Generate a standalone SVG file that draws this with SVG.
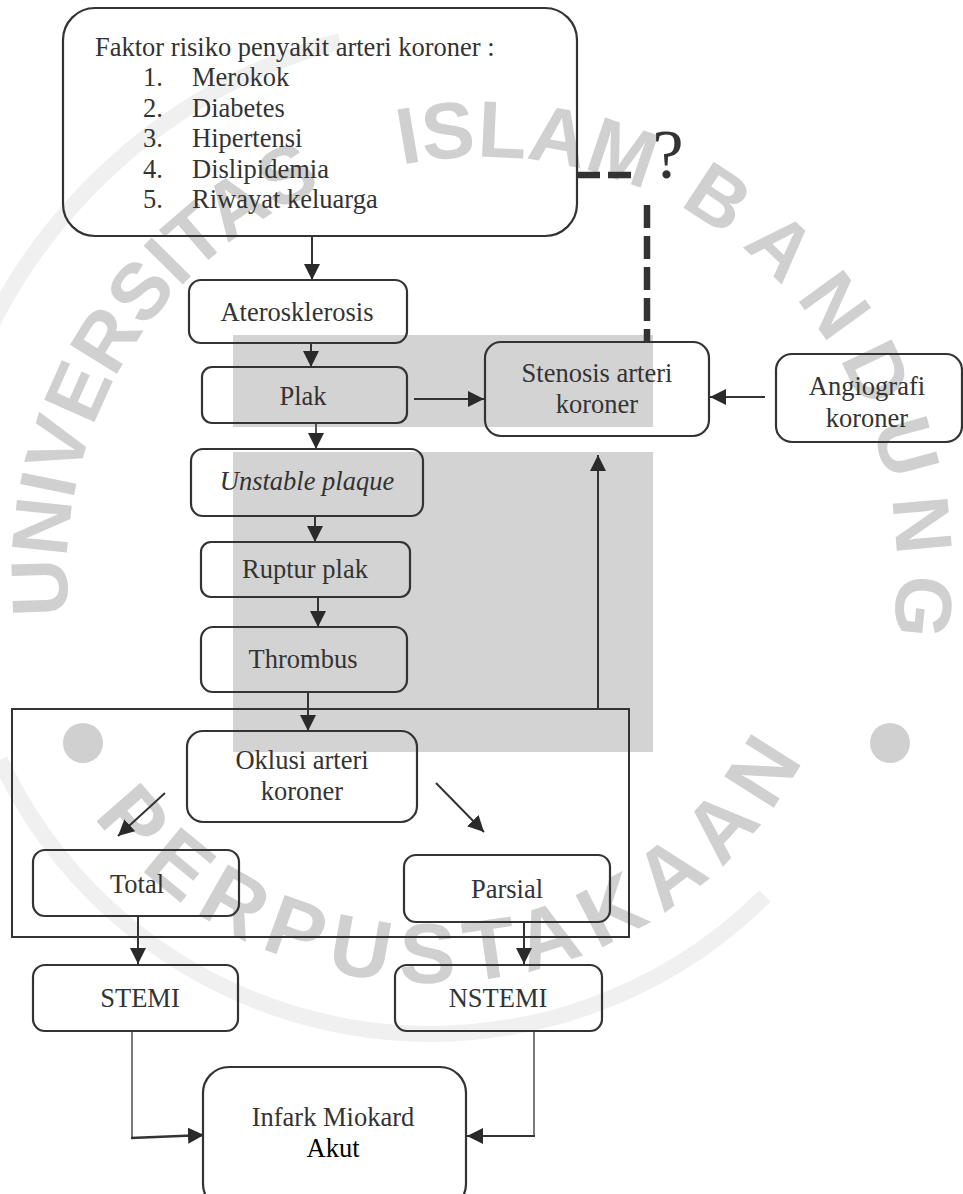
<svg xmlns="http://www.w3.org/2000/svg" width="963" height="1194" viewBox="0 0 963 1194">
<style>
.box{fill:none;stroke:#333;stroke-width:2.2}
.t{font-family:"Liberation Serif","Times New Roman",serif;font-size:26.5px;fill:#333}
.c{text-anchor:middle}
.ln{stroke:#333;stroke-width:2;fill:none}
.ar{marker-end:url(#ah)}
.dash{stroke:#333;stroke-width:6.5;stroke-dasharray:23 8;fill:none}
.wm{font-family:"Liberation Sans",Arial,sans-serif;font-weight:bold;font-size:80px;fill:#d0d0d0}
.band{fill:none;stroke:#f0f0f0;stroke-width:16}
.shade{fill:#d3d3d3}
</style>
<defs>
<marker id="ah" markerUnits="userSpaceOnUse" markerWidth="16" markerHeight="16" refX="16" refY="8" orient="auto">
<path d="M0,0 L16,8 L0,16 z" fill="#2a2a2a"/>
</marker>
<path id="wmTop" d="M73.3,644.1 A415,415 0 1 1 872,713.9"/>
<path id="wmBot" d="M63.7,771.5 A423,423 0 0 0 827.5,704.7"/>
</defs>
<rect width="963" height="1194" fill="#fff"/>
<g id="watermark">
<path class="band" d="M-34,384 A550,550 0 0 1 340,41"/>
<path class="band" d="M0,760 A475,475 0 0 0 765,896"/>
<circle cx="83" cy="743" r="20" fill="#d0d0d0"/>
<circle cx="890" cy="743" r="20" fill="#d0d0d0"/>
<text class="wm"><textPath href="#wmTop" startOffset="29">UNIVERSITAS<tspan dx="60"> ISLAM</tspan><tspan dx="14"> </tspan><tspan letter-spacing="17">BANDUNG</tspan></textPath></text>
<text class="wm" style="font-size:85px"><textPath href="#wmBot" startOffset="53.9" textLength="845" lengthAdjust="spacing">PERPUSTAKAAN</textPath></text>
</g>
<g id="shading">
<rect class="shade" x="233" y="335" width="420" height="92"/>
<rect class="shade" x="233" y="452" width="420" height="300"/>
</g>
<g id="connectors">
<line class="ln ar" x1="312" y1="236" x2="312" y2="280"/>
<line class="ln ar" x1="311" y1="343" x2="311" y2="367"/>
<line class="ln ar" x1="414" y1="399" x2="484" y2="399"/>
<line class="ln ar" x1="765" y1="397" x2="710" y2="397"/>
<line class="ln ar" x1="316" y1="423" x2="316" y2="449" style="stroke:#555"/>
<line class="ln ar" x1="315" y1="516" x2="315" y2="542"/>
<line class="ln ar" x1="318" y1="597" x2="318" y2="627"/>
<line class="ln ar" x1="308" y1="692" x2="308" y2="731"/>
<line class="ln ar" x1="598" y1="709" x2="598" y2="455"/>
<line class="ln ar" x1="165" y1="793" x2="118" y2="836"/>
<line class="ln ar" x1="436" y1="783" x2="484" y2="832"/>
<line class="ln ar" x1="138" y1="916" x2="138" y2="964"/>
<line class="ln ar" x1="524" y1="922" x2="524" y2="964"/>
<line class="ln" x1="132" y1="1031" x2="132" y2="1138" style="stroke-width:1.3"/>
<line class="ln ar" x1="131" y1="1138" x2="204" y2="1135" style="stroke-width:2.6"/>
<line class="ln" x1="534" y1="1031" x2="534" y2="1136" style="stroke-width:1.3"/>
<line class="ln ar" x1="535" y1="1136" x2="467" y2="1136"/>
<line class="dash" x1="577" y1="175" x2="632" y2="175"/>
<line class="dash" x1="647" y1="205" x2="647" y2="342"/>
<text class="t c" x="668" y="178" style="font-size:70px">?</text>
</g>
<g id="risk-factors">
<rect class="box" x="63" y="8" width="514" height="228" rx="32"/>
<text class="t" x="95" y="56">Faktor risiko penyakit arteri koroner :</text>
<text class="t" x="143" y="86">1.</text><text class="t" x="192" y="86">Merokok</text>
<text class="t" x="143" y="117">2.</text><text class="t" x="192" y="117">Diabetes</text>
<text class="t" x="143" y="147">3.</text><text class="t" x="192" y="147">Hipertensi</text>
<text class="t" x="143" y="178">4.</text><text class="t" x="192" y="178">Dislipidemia</text>
<text class="t" x="143" y="208">5.</text><text class="t" x="192" y="208">Riwayat keluarga</text>
</g>
<g id="aterosklerosis">
<rect class="box" x="189" y="280" width="218" height="63" rx="12"/>
<text class="t c" x="297" y="321">Aterosklerosis</text>
</g>
<g id="plak">
<rect class="box" x="202" y="367" width="205" height="56" rx="10"/>
<text class="t c" x="303" y="405">Plak</text>
</g>
<g id="stenosis">
<rect class="box" x="485" y="342" width="224" height="94" rx="16"/>
<text class="t c" x="597" y="382">Stenosis arteri</text>
<text class="t c" x="597" y="413">koroner</text>
</g>
<g id="angiografi">
<rect class="box" x="776" y="354" width="186" height="88" rx="16"/>
<text class="t c" x="867" y="395">Angiografi</text>
<text class="t c" x="867" y="427">koroner</text>
</g>
<g id="unstable-plaque">
<rect class="box" x="191" y="449" width="232" height="67" rx="12"/>
<text class="t c" x="307" y="490" font-style="italic">Unstable plaque</text>
</g>
<g id="ruptur-plak">
<rect class="box" x="201" y="542" width="209" height="55" rx="10"/>
<text class="t c" x="305" y="578">Ruptur plak</text>
</g>
<g id="thrombus">
<rect class="box" x="201" y="627" width="206" height="65" rx="12"/>
<text class="t c" x="303" y="668">Thrombus</text>
</g>
<g id="oklusi-group">
<rect x="12" y="709" width="617" height="228" fill="none" stroke="#333" stroke-width="2"/>
</g>
<g id="oklusi">
<rect class="box" x="187" y="731" width="230" height="91" rx="16"/>
<text class="t c" x="302" y="769">Oklusi arteri</text>
<text class="t c" x="302" y="800">koroner</text>
</g>
<g id="total">
<rect class="box" x="33" y="850" width="206" height="66" rx="12"/>
<text class="t c" x="137" y="893">Total</text>
</g>
<g id="parsial">
<rect class="box" x="404" y="855" width="206" height="67" rx="12"/>
<text class="t c" x="507" y="898">Parsial</text>
</g>
<g id="stemi">
<rect class="box" x="33" y="965" width="205" height="66" rx="12"/>
<text class="t c" x="140" y="1007">STEMI</text>
</g>
<g id="nstemi">
<rect class="box" x="395" y="965" width="207" height="66" rx="12"/>
<text class="t c" x="498" y="1007">NSTEMI</text>
</g>
<g id="infark">
<rect class="box" x="203" y="1067" width="263" height="143" rx="26"/>
<text class="t c" x="333" y="1126">Infark Miokard</text>
<text class="t c" x="333" y="1157" style="fill:#000">Akut</text>
</g>
</svg>
